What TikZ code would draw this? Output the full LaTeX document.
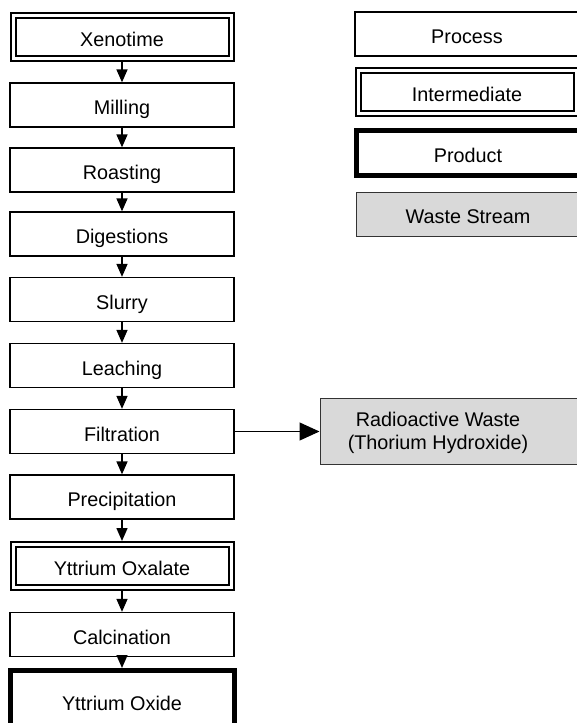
\documentclass[tikz,border=0pt]{standalone}
\usepackage{fontspec}
\setmainfont{Liberation Sans}
\usetikzlibrary{arrows.meta}
\begin{document}
\begin{tikzpicture}[x=1pt,y=-1pt,
  every node/.style={inner sep=0pt, font=\fontsize{19.8}{23.5}\selectfont},
  lbl/.style={text height=19.5pt, text depth=0pt},
  procbox/.style={draw, lbl, line width=1.3pt, minimum width=224pt, minimum height=44pt, outer sep=0.65pt},
  interbox/.style={draw, lbl, line width=2pt, double, double distance=3pt, minimum width=218pt, minimum height=43pt, outer sep=3.5pt},
  prodbox/.style={draw, lbl, line width=5pt, minimum width=224pt, minimum height=45pt, outer sep=2.5pt},
  wastebox/.style={draw=black!80, fill=black!15, line width=1pt, minimum width=224pt, minimum height=44pt},
  flow/.style={line width=1.5pt, -{Triangle[length=13pt,width=11pt]}},
  sideflow/.style={line width=1.2pt, -{Triangle[length=20pt,width=18pt]}}
]
\useasboundingbox (0,0) rectangle (577,723);
\fill[white] (0,0) rectangle (577,723);

% main column
\node[interbox] (xeno) at (122,36.7) {Xenotime};
\node[procbox] (mill) at (122,105) {Milling};
\node[procbox] (roast) at (122,170) {Roasting};
\node[procbox] (dig) at (122,234) {Digestions};
\node[procbox] (slurry) at (122,299.5) {Slurry};
\node[procbox] (leach) at (122,365.5) {Leaching};
\node[procbox] (filt) at (122,431.5) {Filtration};
\node[procbox] (prec) at (122,497) {Precipitation};
\node[interbox] (oxal) at (122,566) {Yttrium Oxalate};
\node[procbox] (calc) at (122,634.5) {Calcination};
\node[prodbox, minimum height=61pt] (oxide) at (122,701) {Yttrium Oxide};

\draw[flow] (xeno) -- (mill);
\draw[flow] (mill) -- (roast);
\draw[flow] (roast) -- (dig);
\draw[flow] (dig) -- (slurry);
\draw[flow] (slurry) -- (leach);
\draw[flow] (leach) -- (filt);
\draw[flow] (filt) -- (prec);
\draw[flow] (prec) -- (oxal);
\draw[flow] (oxal) -- (calc);
\draw[flow] (calc) -- (oxide);

% waste stream
\node[wastebox, minimum width=280pt, minimum height=66.6pt] (radw) at (460,431.5) {};
\node[align=center] (radwtext) at (438,433) {Radioactive Waste\\(Thorium Hydroxide)};
\draw[sideflow] (filt.east) -- (filt.east -| radw.west);

% legend
\node[procbox] (lproc) at (467,34) {Process};
\node[interbox] (linter) at (467,92) {Intermediate};
\node[prodbox] (lprod) at (468,153) {Product};
\node[wastebox, lbl] (lwaste) at (468,214) {Waste Stream};
\end{tikzpicture}
\end{document}
